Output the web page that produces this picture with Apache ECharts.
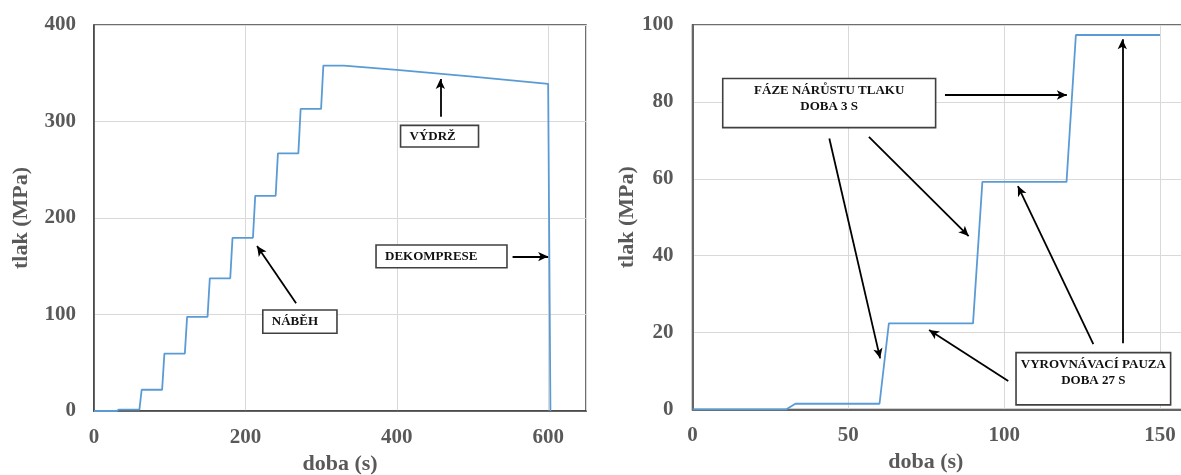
<!DOCTYPE html>
<html><head><meta charset="utf-8">
<script src="https://cdn.jsdelivr.net/npm/echarts@6/dist/echarts.min.js"></script>
<style>html,body{margin:0;padding:0;background:#fff}#c{width:1181px;height:475px}</style>
</head><body><div id="c"></div>
<script>
// ---- data ----
const leftTimes    = [0, 30, 33, 60, 63, 90, 93, 120, 123, 150, 153, 180, 183, 210, 213, 240, 243, 270, 273, 300, 303, 330, 400, 500, 600, 603];
const leftPressure = [0, 0, 1.5, 1.5, 22, 22, 59.5, 59.5, 97.5, 97.5, 137.5, 137.5, 179.5, 179.5, 223, 223, 267, 267, 313, 313, 358, 358, 353.5, 346.5, 339, 0];
const rightTimes    = [0, 30, 33, 60, 63, 90, 93, 120, 123, 150];
const rightPressure = [0, 0, 1.5, 1.5, 22.4, 22.4, 59.2, 59.2, 97.4, 97.4];
const leftXTicks = [0, 200, 400, 600];
const leftYTicks = [0, 100, 200, 300, 400];
const rightXTicks = [0, 50, 100, 150];
const rightYTicks = [0, 20, 40, 60, 80, 100];
const xTitle = 'doba (s)';
const yTitle = 'tlak (MPa)';

// annotations in data units
const leftArrows = [[457.6, 305, 457.6, 344], [267, 111.6, 215.4, 171], [553, 160, 600, 160]];
const rightArrows = [[81, 81.8, 120.1, 81.8], [43.9, 70.5, 60.2, 13.3], [56.6, 70.9, 88.6, 45.1],
                     [101.3, 7.4, 75.9, 20.7], [128.6, 17, 104.4, 58.1], [137.9, 17.2, 137.9, 96.3]];
const boxTexts = ['VÝDRŽ', 'NÁBĚH', 'DEKOMPRESE', 'FÁZE NÁRŮSTU TLAKU\nDOBA 3 S', 'VYROVNÁVACÍ PAUZA\nDOBA 27 S'];
const boxCorners = [[0, 405, 296, 508, 273.5], [0, 223, 104.7, 321, 80.5], [0, 372.6, 172, 545.6, 148.5],
                    [1, 9.7, 86.1, 78, 73.3], [1, 103.8, 14.8, 153.4, 1.2]];

const FONT = '"Liberation Serif", "Times New Roman", serif';
const GREY = '#595959';

function pairs(xs, ys) { return xs.map((x, i) => [x, ys[i]]); }
function arrowData(list) {
  return list.map(a => [{coord: [a[0], a[1]]}, {coord: [a[2], a[3]]}]);
}
function xAxisCfg(grid, max, interval, namePad) {
  return {
    type: 'value', gridIndex: grid, min: 0, max: max, interval: interval,
    name: xTitle, nameLocation: 'middle', nameGap: 41,
    nameTextStyle: {fontFamily: FONT, fontWeight: 'bold', fontSize: 22, color: GREY, padding: namePad},
    axisLine: {show: true, onZero: false, lineStyle: {color: '#404040', width: 1.5}},
    axisTick: {show: false},
    axisLabel: {fontFamily: FONT, fontWeight: 'bold', fontSize: 21, color: GREY, margin: 16, showMaxLabel: false},
    splitLine: {show: true, lineStyle: {color: '#d9d9d9', width: 1}}
  };
}
function yAxisCfg(grid, max, interval, gap, margin) {
  return {
    type: 'value', gridIndex: grid, min: 0, max: max, interval: interval,
    name: yTitle, nameLocation: 'middle', nameGap: gap, nameRotate: 90,
    nameTextStyle: {fontFamily: FONT, fontWeight: 'bold', fontSize: 22, color: GREY},
    axisLine: {show: true, lineStyle: {color: '#404040', width: 1.5}},
    axisTick: {show: false},
    axisLabel: {fontFamily: FONT, fontWeight: 'bold', fontSize: 21, color: GREY, margin: margin, padding: [3, 0, 0, 0]},
    splitLine: {show: true, lineStyle: {color: '#d9d9d9', width: 1}}
  };
}
const markLineStyle = {
  silent: true, animation: false, symbol: ['none', 'arrow'], symbolSize: [7, 10],
  label: {show: false}, lineStyle: {color: '#000', width: 1.8, type: 'solid'}, emphasis: {disabled: true}
};

const chart = echarts.init(document.getElementById('c'), null, {renderer: 'canvas'});
chart.setOption({
  animation: false,
  backgroundColor: '#fff',
  grid: [
    {left: 94, top: 25, width: 492, height: 386, outerBoundsMode: 'none', containLabel: false,
     show: true, borderColor: '#404040', borderWidth: 1.5, backgroundColor: 'transparent'},
    {left: 692.5, top: 25, width: 498.7, height: 384.5, outerBoundsMode: 'none', containLabel: false,
     show: true, borderColor: '#404040', borderWidth: 1.5, backgroundColor: 'transparent'}
  ],
  xAxis: [
    xAxisCfg(0, 650, 200, [0, 0, 0, 0]),
    xAxisCfg(1, 160, 50, [0, 32, 0, 0])
  ],
  yAxis: [
    yAxisCfg(0, 400, 100, 62, 18),
    yAxisCfg(1, 100, 20, 54, 19)
  ],
  series: [
    {type: 'line', xAxisIndex: 0, yAxisIndex: 0, data: pairs(leftTimes, leftPressure), showSymbol: false, symbol: 'none',
     lineStyle: {color: '#5b9bd5', width: 1.8}, z: 3,
     markLine: Object.assign({data: arrowData(leftArrows)}, markLineStyle)},
    {type: 'line', xAxisIndex: 1, yAxisIndex: 1, data: pairs(rightTimes, rightPressure), showSymbol: false, symbol: 'none',
     lineStyle: {color: '#5b9bd5', width: 1.8}, z: 3,
     markLine: Object.assign({data: arrowData(rightArrows)}, markLineStyle)}
  ]
});

// text boxes positioned from data coordinates
const g = [];
boxTexts.forEach((t, i) => {
  const c = boxCorners[i];
  const p1 = chart.convertToPixel({gridIndex: c[0]}, [c[1], c[2]]);
  const p2 = chart.convertToPixel({gridIndex: c[0]}, [c[3], c[4]]);
  const w = p2[0] - p1[0], h = p2[1] - p1[1];
  const multi = t.indexOf('\n') >= 0;
  g.push({type: 'rect', shape: {x: p1[0], y: p1[1], width: w, height: h},
          style: {fill: '#fff', stroke: '#404040', lineWidth: 1.6}, z: 100, silent: true});
  g.push({type: 'text', x: multi ? p1[0] + w / 2 : p1[0] + 9, y: multi ? p1[1] + 4 : p1[1] + h / 2,
          style: {text: t, font: 'bold 13px ' + FONT, fill: '#111', align: multi ? 'center' : 'left',
                  verticalAlign: multi ? 'top' : 'middle', lineHeight: 16}, z: 101, silent: true});
});
chart.setOption({graphic: g});
</script>
</body></html>
